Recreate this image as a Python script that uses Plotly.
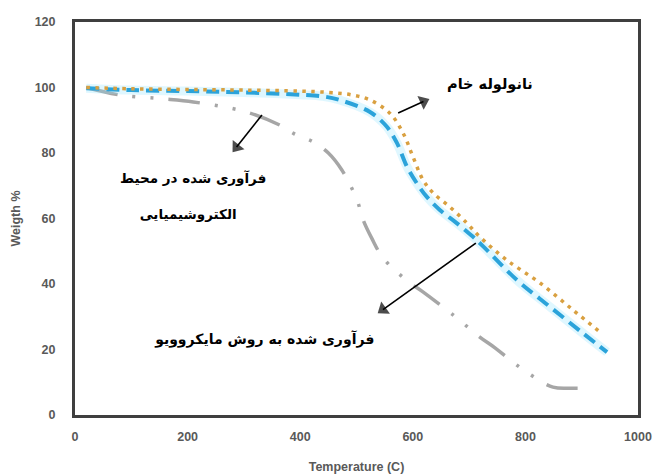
import plotly.graph_objects as go

# Raw nanotube (orange dotted)
raw_x = [20, 100, 200, 300, 400, 450, 490, 524, 560, 583, 600, 618, 636, 666, 696, 719, 767, 826, 885, 935]
raw_y = [100, 99.6, 99.4, 99.2, 98.9, 98.5, 97.8, 96.2, 92, 86, 79, 71.8, 67.8, 63.5, 58.6, 54.4, 47.3, 40.3, 32, 25]

# Electrochemical (blue dashed)
ec_x = [20, 100, 200, 300, 400, 440, 470, 524, 554, 572, 590, 607, 625, 648, 678, 707, 725, 785, 844, 902, 945]
ec_y = [99.8, 99.2, 98.9, 98.5, 97.8, 97.3, 96.2, 92.5, 88, 83, 75.7, 70.8, 66.6, 62.6, 58.6, 54.4, 51.5, 41.2, 33, 25, 19.2]

# Microwave (gray dash-dot)
mw_x = [20, 80, 151, 210, 305, 364, 388, 423, 450, 474, 501, 512, 527, 547, 590, 618, 672, 719, 746, 773, 803, 849, 885, 920]
mw_y = [100, 97.7, 96.6, 95.6, 92.5, 88.5, 86, 83.4, 80, 74.8, 65.6, 59.5, 54, 48, 41, 37.6, 30.5, 23.8, 20.5, 16.8, 13, 8.5, 8.2, 8.2]

# Labels and callout arrows (data coordinates)
label_texts = ["<b>نانولوله خام</b>", "<b>فرآوری شده در محیط</b>", "<b>الکتروشیمیایی</b>",
               "<b>فرآوری شده به روش مایکروویو</b>"]
label_x = [737, 210, 201, 337]
label_y = [100.5, 71.8, 60.8, 22.6]
label_sizes = [14.5, 13.5, 13.5, 14]

arrow_x = [[574, 619], [332, 287], [712, 547]]
arrow_y = [[92.2, 95.7], [91.6, 81.8], [52.5, 32.2]]

x_range = [0, 1000]
y_range = [0, 120]
x_ticks = [0, 200, 400, 600, 800, 1000]
y_ticks = [0, 20, 40, 60, 80, 100, 120]

fig = go.Figure()
fig.add_trace(go.Scatter(x=mw_x, y=mw_y, mode="lines", line_shape="spline", hoverinfo="skip",
                         line=dict(color="#A6A6A6", width=3.5, dash="32px,15px,3px,15px,3px,15px")))
fig.add_trace(go.Scatter(x=ec_x, y=ec_y, mode="lines", line_shape="spline", hoverinfo="skip",
                         line=dict(color="rgba(140,225,255,0.28)", width=9)))
fig.add_trace(go.Scatter(x=ec_x, y=ec_y, mode="lines", line_shape="spline",
                         line=dict(color="#2BA3DA", width=4, dash="13px,7px")))
fig.add_trace(go.Scatter(x=raw_x, y=raw_y, mode="lines", line_shape="spline",
                         line=dict(color="#D9A040", width=3.5, dash="3.5px,5.5px")))

for ax_, ay_ in zip(arrow_x, arrow_y):
    fig.add_trace(go.Scatter(x=ax_, y=ay_, mode="lines+markers", hoverinfo="skip", cliponaxis=False,
                             line=dict(color="black", width=1.6),
                             marker=dict(symbol="triangle-up", size=[0, 13], color="black",
                                         angleref="previous", line=dict(width=0))))

for t, lx, ly, s in zip(label_texts, label_x, label_y, label_sizes):
    fig.add_trace(go.Scatter(x=[lx], y=[ly], mode="text", text=[t], cliponaxis=False,
                             hoverinfo="skip", textposition="middle center",
                             textfont=dict(family="DejaVu Sans", size=s, color="black")))

tickfont = dict(family="Liberation Sans", size=12.5, color="#595959", weight="bold")
titlefont = dict(family="Liberation Sans", size=12.5, color="#595959", weight="bold")
fig.update_layout(
    width=659, height=475,
    margin=dict(l=75, r=21, t=22, b=60),
    paper_bgcolor="white", plot_bgcolor="white",
    showlegend=False,
    xaxis=dict(range=x_range, tickvals=x_ticks, showgrid=False, zeroline=False,
               showline=True, mirror=True, linecolor="#3F3F3F", linewidth=3,
               tickfont=tickfont, ticks="", ticklabelstandoff=8, automargin=False,
               title=dict(text="Temperature (C)", font=titlefont, standoff=20)),
    yaxis=dict(range=y_range, tickvals=y_ticks, showgrid=False, zeroline=False,
               showline=True, mirror=True, linecolor="#3F3F3F", linewidth=3,
               tickfont=tickfont, ticks="", ticklabelstandoff=14, automargin=False,
               title=dict(text="Weigth %", font=titlefont, standoff=12)),
)

fig.write_html("out.html")
